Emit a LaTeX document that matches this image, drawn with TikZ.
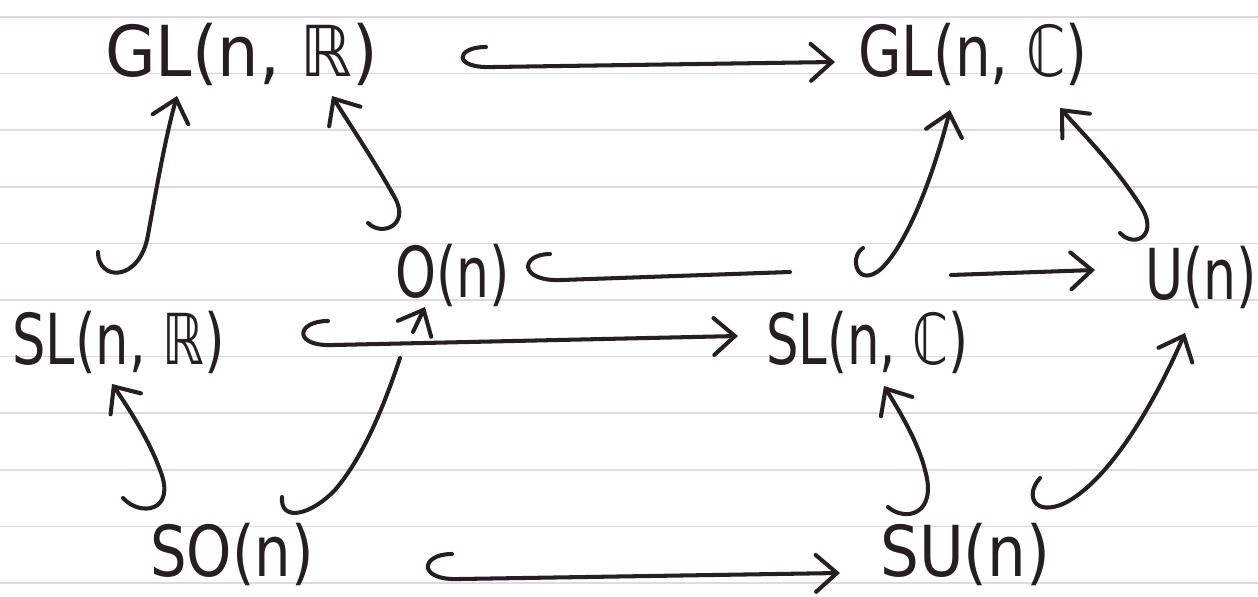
\documentclass[tikz,border=0pt]{standalone}
\usepackage{fontspec}
\setmainfont{DejaVu Sans}
\usetikzlibrary{arrows.meta}
\definecolor{ink}{RGB}{38,30,34}
\definecolor{rule}{RGB}{224,216,234}
\tikzset{
  lbl/.style={anchor=base west, inner sep=0pt, text=ink, font=\fontsize{40}{40}\selectfont},
  pen/.style={draw=ink, line width=2.3pt, line cap=round, line join=round},
  tip/.style={pen, -{Straight Barb[length=12pt, width=21pt, line cap=round]}},
}
\begin{document}
\begin{tikzpicture}[x=0.02cm, y=-0.02cm]
\fill[white] (0,0) rectangle (1258,597);
\useasboundingbox (0,0) rectangle (1258,597);
% ruled paper
\foreach \k in {0,...,10} {
  \draw[rule, line width=0.9pt] (0,{17+56.6*\k}) -- (1258,{17+56.6*\k});
}
% labels
\node[lbl, xscale=0.93] (glr) at (105,77) {GL(n, ℝ)};
\node[lbl, xscale=0.80] (glc) at (858,77) {GL(n, ℂ)};
\node[lbl, xscale=0.74] (on)  at (395,298) {O(n)};
\node[lbl, xscale=0.74] (un)  at (1145,300) {U(n)};
\node[lbl, xscale=0.75] (slr) at (12,365) {SL(n, ℝ)};
\node[lbl, xscale=0.73] (slc) at (766,365) {SL(n, ℂ)};
\node[lbl, xscale=0.82] (son) at (150,577) {SO(n)};
\node[lbl, xscale=0.87] (sun) at (880,577) {SU(n)};
% connector end points
\coordinate (a1) at (486,47);   \coordinate (a1b) at (494,67);  \coordinate (a1e) at (835,62);
\coordinate (a2) at (550,254);  \coordinate (a2b) at (562,280); \coordinate (a2m) at (790,272);
\coordinate (a2n) at (951,275); \coordinate (a2e) at (1095,270);
\coordinate (a3) at (328,321);  \coordinate (a3b) at (334,345); \coordinate (a3e) at (738,336);
\coordinate (a4) at (452,554);  \coordinate (a4b) at (460,579); \coordinate (a4e) at (840,573);
% horizontal hook arrows
\draw[tip] (a1) .. controls (455,47) and (452,69) .. (a1b) -- (a1e);
\draw[pen] (a2) .. controls (520,254) and (518,282) .. (a2b) -- (a2m);
\draw[tip] (a3) .. controls (296,321) and (292,347) .. (a3b) -- (a3e);
\draw[tip] (a2n) -- (a2e);
\draw[tip] (a4) .. controls (420,554) and (417,581) .. (a4b) -- (a4e);
% rising hook arrows
\coordinate (v1) at (98,252);   \coordinate (v1e) at (177,96);
\coordinate (v2) at (368,223);  \coordinate (v2e) at (332,96);
\coordinate (v3) at (863,248);  \coordinate (v3e) at (950,110);
\coordinate (v4) at (1120,233); \coordinate (v4e) at (1060,108);
\coordinate (v5) at (123,498);  \coordinate (v5e) at (112,384);
\coordinate (v6) at (282,497);  \coordinate (v6m) at (400,358);
\coordinate (v6n) at (413,332); \coordinate (v6e) at (425,307);
\coordinate (v7) at (888,507);  \coordinate (v7e) at (884,386);
\coordinate (v8) at (1040,478); \coordinate (v8e) at (1185,333);
\draw[tip] (v1) .. controls (98,282) and (140,282) .. (148,235) .. controls (157,185) and (166,135) .. (v1e);
\draw[tip] (v2) .. controls (382,237) and (410,225) .. (395,198) .. controls (375,162) and (352,128) .. (v2e);
\draw[tip] (v3) .. controls (848,258) and (858,290) .. (882,268) .. controls (907,243) and (932,180) .. (v3e);
\draw[tip] (v4) .. controls (1135,249) and (1160,235) .. (1140,205) .. controls (1115,166) and (1085,136) .. (v4e);
\draw[tip] (v5) .. controls (140,517) and (177,512) .. (160,470) .. controls (150,442) and (130,410) .. (v5e);
\draw[pen] (v6) .. controls (280,522) and (310,516) .. (335,490) .. controls (365,455) and (386,400) .. (v6m);
\draw[tip] (v6n) -- (v6e);
\draw[tip] (v7) .. controls (905,522) and (938,515) .. (925,470) .. controls (918,442) and (900,412) .. (v7e);
\draw[tip] (v8) .. controls (1024,496) and (1035,517) .. (1065,503) .. controls (1110,480) and (1155,402) .. (v8e);
\end{tikzpicture}
\end{document}
